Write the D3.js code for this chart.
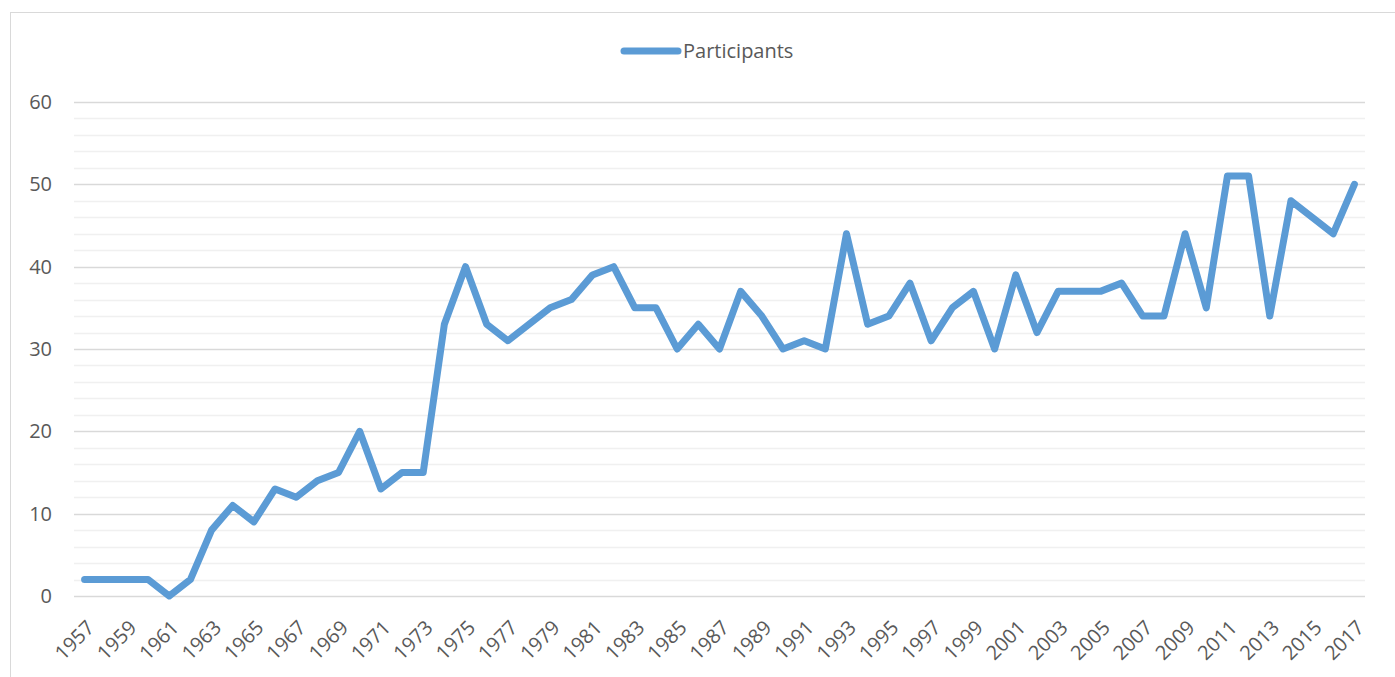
<!DOCTYPE html>
<html>
<head>
<meta charset="utf-8">
<script src="https://cdn.jsdelivr.net/npm/d3@7"></script>
<style>
  body { margin: 0; background: #fff; }
  svg { display: block; font-family: "Open Sans", sans-serif; }
</style>
</head>
<body>
<svg width="1395" height="677"></svg>
<script>
// years on the x axis
var years = d3.range(1957, 2018);
// participants per year
var participants = [
  2, 2, 2, 2, 0, 2, 8, 11, 9, 13,      // 1957-1966
  12, 14, 15, 20, 13, 15, 15, 33, 40, 33, // 1967-1976
  31, 33, 35, 36, 39, 40, 35, 35, 30, 33, // 1977-1986
  30, 37, 34, 30, 31, 30, 44, 33, 34, 38, // 1987-1996
  31, 35, 37, 30, 39, 32, 37, 37, 37, 38, // 1997-2006
  34, 34, 44, 35, 51, 51, 34, 48, 46, 44, // 2007-2016
  50                                      // 2017
];
var yTicks = [0, 10, 20, 30, 40, 50, 60];
var seriesName = "Participants";

var data = years.map((y, i) => ({ year: y, value: participants[i] }));

var svg = d3.select("svg");
var plotL = 74, plotR = 1365, plotT = 102, plotB = 596;

// chart frame
svg.append("rect")
  .attr("x", 10.5).attr("y", 12.5)
  .attr("width", 1400).attr("height", 700)
  .attr("fill", "none")
  .attr("stroke", "#d9d9d9");

var x = d3.scaleBand()
  .domain(years)
  .range([plotL, plotR]);

var y = d3.scaleLinear()
  .domain([0, 60])
  .range([plotB, plotT]);

// minor gridlines every 2
svg.append("g")
  .selectAll("line")
  .data(d3.range(0, 61, 2).filter(v => v % 10 != 0))
  .enter()
  .append("line")
  .attr("x1", plotL).attr("x2", plotR)
  .attr("y1", d => Math.round(y(d)) + 0.5)
  .attr("y2", d => Math.round(y(d)) + 0.5)
  .attr("stroke", "#f0f0f0")
  .attr("stroke-width", 1.5);

// major gridlines
svg.append("g")
  .selectAll("line")
  .data(yTicks)
  .enter()
  .append("line")
  .attr("x1", plotL).attr("x2", plotR)
  .attr("y1", d => Math.round(y(d)) + 0.5)
  .attr("y2", d => Math.round(y(d)) + 0.5)
  .attr("stroke", "#d9d9d9")
  .attr("stroke-width", 1.5);

// y labels
svg.append("g")
  .selectAll("text")
  .data(yTicks)
  .enter()
  .append("text")
  .attr("x", 52)
  .attr("y", d => y(d))
  .attr("dy", "0.35em")
  .attr("text-anchor", "end")
  .attr("fill", "#595959")
  .style("font-size", "20px")
  .text(d => d);

// x labels, every other year, rotated
svg.append("g")
  .selectAll("text")
  .data(years.filter((d, i) => i % 2 == 0))
  .enter()
  .append("text")
  .attr("transform", d => "translate(" + (x(d) + x.bandwidth() / 2 + 6) + ",624) rotate(-45)")
  .attr("text-anchor", "end")
  .attr("dy", "0.35em")
  .attr("fill", "#595959")
  .style("font-size", "20px")
  .text(d => d);

// the series
var line = d3.line()
  .x(d => x(d.year) + x.bandwidth() / 2)
  .y(d => y(d.value));

svg.append("path")
  .datum(data)
  .attr("d", line)
  .attr("fill", "none")
  .attr("stroke", "#5b9bd5")
  .attr("stroke-width", 7)
  .attr("stroke-linejoin", "round")
  .attr("stroke-linecap", "round");

// legend
var lg = svg.append("g");
lg.append("line")
  .attr("x1", 624).attr("x2", 678)
  .attr("y1", 51).attr("y2", 51)
  .attr("stroke", "#5b9bd5")
  .attr("stroke-width", 7)
  .attr("stroke-linecap", "round");
lg.append("text")
  .attr("x", 683).attr("y", 51)
  .attr("dy", "0.35em")
  .attr("fill", "#595959")
  .style("font-size", "20px")
  .text(seriesName);
</script>
</body>
</html>
